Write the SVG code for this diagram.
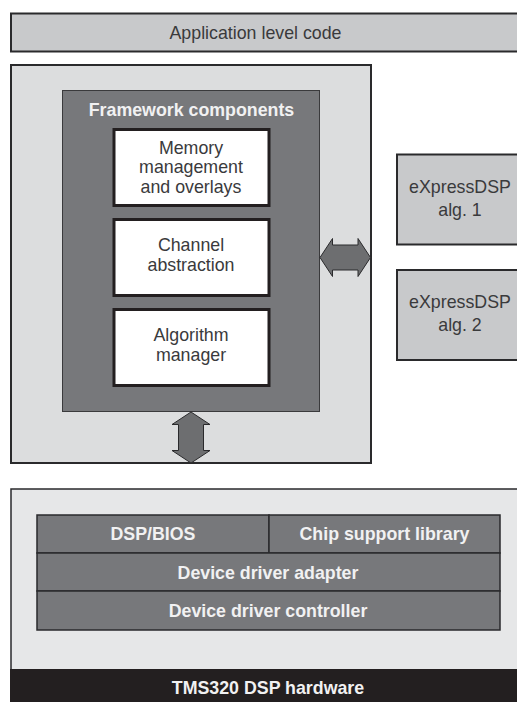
<svg xmlns="http://www.w3.org/2000/svg" width="517" height="702" viewBox="0 0 517 702">
<style>
text{font-family:"Liberation Sans",Arial,sans-serif;text-anchor:middle}
.t{font-size:17.800px;fill:#3a3a3c}
.b{font-size:17.800px;font-weight:bold;fill:#f1f1f2}
.g{fill:#c8c9cb;stroke:#2a2a2c;stroke-width:2}
.l{fill:#dcddde;stroke:#2a2a2c;stroke-width:2}
.d{fill:#77787b;stroke:#2a2a2c;stroke-width:1.500}
.w{fill:#fff;stroke:#231f20;stroke-width:3}
.a{fill:#6d6e70;stroke:#2a2a2c;stroke-width:1}
</style>
<rect width="517" height="702" fill="#fff"/>
<g id="app"><path class="g" d="M518 13.500H11V51.500H518"/><text class="t" x="255.500" y="38.500">Application level code</text></g>
<g id="framework-host"><rect class="l" x="11" y="65" width="360" height="398"/></g>
<g id="framework"><rect x="62.500" y="90.500" width="257" height="321" fill="#77787b" stroke="#3a3a3c"/><text class="b" x="191.500" y="116">Framework components</text></g>
<g id="memory"><rect class="w" x="114" y="129.500" width="155" height="76"/><text class="t" x="191" y="154">Memory</text><text class="t" x="191" y="173">management</text><text class="t" x="191" y="193">and overlays</text></g>
<g id="channel"><rect class="w" x="114" y="219.500" width="155" height="76"/><text class="t" x="191" y="250.500">Channel</text><text class="t" x="191" y="270.500">abstraction</text></g>
<g id="algmgr"><rect class="w" x="114" y="309.500" width="155" height="76"/><text class="t" x="191" y="341">Algorithm</text><text class="t" x="191" y="361">manager</text></g>
<g id="alg1"><path class="g" d="M518 154.500H397V244.500H518"/><text class="t" x="460" y="193">eXpressDSP</text><text class="t" x="460" y="216">alg. 1</text></g>
<g id="alg2"><path class="g" d="M518 270H397V360H518"/><text class="t" x="460" y="308">eXpressDSP</text><text class="t" x="460" y="331">alg. 2</text></g>
<g id="connectors">
<path class="a" d="M320 257.500L332.500 238.500V245H358V238.500L370.500 257.500L358 276.500V270H332.500V276.500Z"/>
<path class="a" d="M191 412L210 424.500H203.500V450.500H210L191 463L172 450.500H178.500V424.500H172Z"/>
</g>
<g id="bottom-host"><path d="M518 489H11V702H518" fill="#e6e7e8" stroke="#2a2a2c" stroke-width="1.500"/></g>
<g id="dspbios"><rect class="d" x="37" y="515" width="232" height="38"/><text class="b" x="153" y="540">DSP/BIOS</text></g>
<g id="csl"><rect class="d" x="269" y="515" width="231" height="38"/><text class="b" x="384.500" y="540">Chip support library</text></g>
<g id="adapter"><rect class="d" x="37" y="553" width="463" height="38"/><text class="b" x="268" y="579">Device driver adapter</text></g>
<g id="controller"><rect class="d" x="37" y="591" width="463" height="39"/><text class="b" x="268" y="617">Device driver controller</text></g>
<g id="hardware"><rect x="10" y="669" width="507" height="33" fill="#231f20"/><text class="b" x="268" y="693.500">TMS320 DSP hardware</text></g>
</svg>
